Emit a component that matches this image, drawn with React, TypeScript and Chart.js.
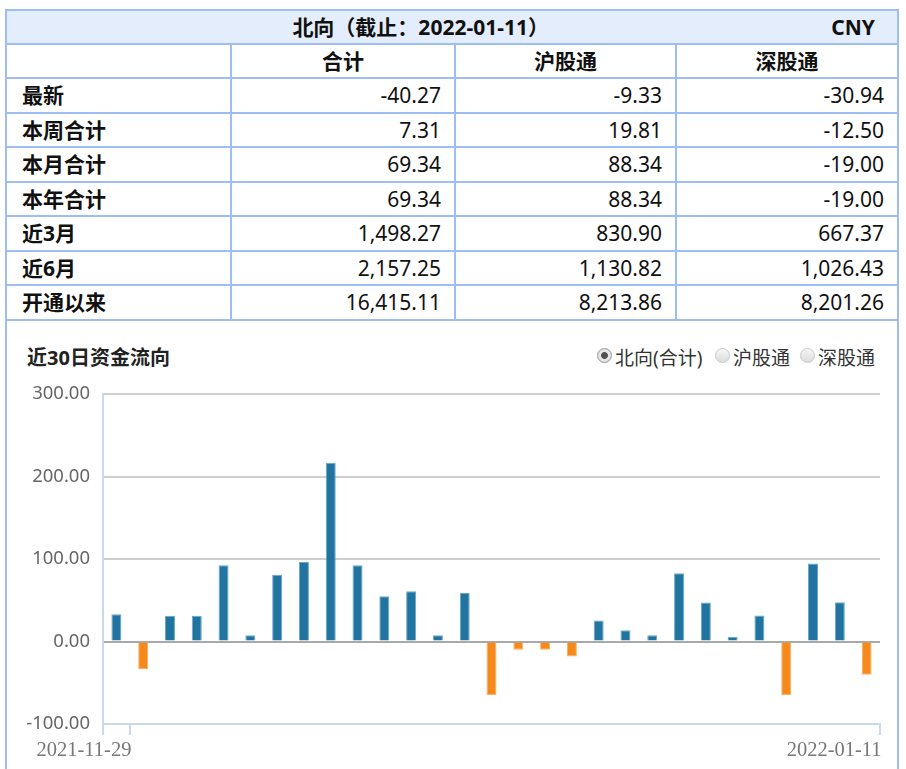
import React, { useEffect, useRef } from 'react';
import { Chart, registerables } from 'chart.js';

Chart.register(...registerables);

// ---------- data ----------
const headerTitle = '北向（截止：2022-01-11）';
const currency = 'CNY';
const columnHeaders = ['合计', '沪股通', '深股通'];
const rowLabels = ['最新', '本周合计', '本月合计', '本年合计', '近3月', '近6月', '开通以来'];
const totalValues = ['-40.27', '7.31', '69.34', '69.34', '1,498.27', '2,157.25', '16,415.11'];
const shValues = ['-9.33', '19.81', '88.34', '88.34', '830.90', '1,130.82', '8,213.86'];
const szValues = ['-30.94', '-12.50', '-19.00', '-19.00', '667.37', '1,026.43', '8,201.26'];

const chartTitle = '近30日资金流向';
const radioOptions = ['北向(合计)', '沪股通', '深股通'];

const dates = [
  '2021-11-29', '2021-11-30', '2021-12-01', '2021-12-02', '2021-12-03',
  '2021-12-06', '2021-12-07', '2021-12-08', '2021-12-09', '2021-12-10',
  '2021-12-13', '2021-12-14', '2021-12-15', '2021-12-16', '2021-12-17',
  '2021-12-20', '2021-12-21', '2021-12-22', '2021-12-23', '2021-12-28',
  '2021-12-29', '2021-12-30', '2021-12-31', '2022-01-04', '2022-01-05',
  '2022-01-06', '2022-01-07', '2022-01-10', '2022-01-11',
];
const flowValues = [
  33.1, -33.5, 31.1, 31.1, 92.5,
  7.7, 80.8, 96.5, 216.8, 92.5,
  54.9, 61.0, 7.7, 58.9, -65.0,
  -10.1, -10.1, -18.2, 25.4, 13.7,
  7.7, 82.8, 47.3, 5.7, 31.5,
  -65.0, 94.5, 47.58, -40.27,
];
const yMin = -100;
const yMax = 300;
const yStep = 100;

// ---------- styles ----------
const BORDER = '#9fbdf5';
const HEAD_BG = '#e3edfb';
const FONT = '"Noto Sans", "Noto Sans CJK SC", sans-serif';
const BLUE = '#20749f';
const BLUE_EDGE = '#6aa6c8';
const ORANGE = '#f6891b';
const ORANGE_EDGE = '#f9b062';
const AXIS = '#c8d8ee';

const colWidths = [225, 224, 221, 220];
const headRowH = 33.5;
const rowH = 34.5;

function Cell(props: { w: number; last?: boolean; align?: 'left' | 'right' | 'center'; bold?: boolean; children?: React.ReactNode; }) {
  const { w, last, align = 'left', bold, children } = props;
  return (
    <div
      style={{
        boxSizing: 'border-box',
        width: w,
        height: '100%',
        borderRight: last ? 'none' : `2px solid ${BORDER}`,
        display: 'flex',
        alignItems: 'center',
        justifyContent: align === 'left' ? 'flex-start' : align === 'right' ? 'flex-end' : 'center',
        padding: align === 'left' ? '0 0 0 15px' : align === 'right' ? '0 13px 0 0' : '0',
        fontWeight: bold ? 'bold' : 'normal',
        whiteSpace: 'nowrap',
      }}
    >
      {children}
    </div>
  );
}

function Row(props: { h: number; bg?: string; children?: React.ReactNode }) {
  return (
    <div
      style={{
        boxSizing: 'border-box',
        height: props.h,
        borderBottom: `2px solid ${BORDER}`,
        display: 'flex',
        background: props.bg,
      }}
    >
      {props.children}
    </div>
  );
}

function Radio(props: { checked?: boolean }) {
  const base: React.CSSProperties = {
    boxSizing: 'border-box',
    display: 'inline-block',
    width: 15,
    height: 15,
    borderRadius: '50%',
    verticalAlign: 'middle',
  };
  if (props.checked) {
    return (
      <span
        style={{
          ...base,
          border: '1px solid #9a9a9a',
          background: 'radial-gradient(circle, #505050 0, #505050 3px, #e9e9e9 3.8px, #d6d6d6 100%)',
        }}
      />
    );
  }
  return (
    <span
      style={{
        ...base,
        border: '1px solid #c9c9c9',
        background: 'linear-gradient(#f6f6f6, #dcdcdc)',
      }}
    />
  );
}

function FlowChart() {
  const ref = useRef<HTMLCanvasElement | null>(null);
  useEffect(() => {
    if (!ref.current) return;
    const chart = new Chart(ref.current, {
      type: 'bar',
      data: {
        labels: dates,
        datasets: [
          {
            data: flowValues,
            backgroundColor: (ctx: any) => ((ctx.raw as number) < 0 ? ORANGE : BLUE),
            borderColor: (ctx: any) => ((ctx.raw as number) < 0 ? ORANGE_EDGE : BLUE_EDGE),
            borderWidth: 1,
            categoryPercentage: 1,
            barPercentage: 0.373,
          },
        ],
      },
      options: {
        responsive: false,
        animation: false,
        layout: { padding: { top: 14, right: 14, left: 0, bottom: 0 } },
        plugins: { legend: { display: false }, tooltip: { enabled: false } },
        scales: {
          x: {
            grid: {
              offset: true,
              drawOnChartArea: false,
              drawTicks: true,
              tickLength: 11,
              lineWidth: 2,
              color: (ctx: any) =>
                ctx.type !== 'tick' || ctx.index === 0 || ctx.index === 1 ? AXIS : 'rgba(0,0,0,0)',
            },
            border: { display: true, color: AXIS, width: 2 },
            ticks: {
              autoSkip: false,
              maxRotation: 0,
              minRotation: 0,
              align: 'end',
              labelOffset: 15,
              padding: 3,
              color: '#777',
              font: { family: '"Liberation Serif", serif', size: 20.5 },
              callback: (_v: any, i: number) => (i === 0 || i === dates.length - 1 ? dates[i] : ''),
            },
            afterFit: (s: any) => {
              s.height = 45;
              s.paddingLeft = 0;
              s.paddingRight = 0;
            },
          },
          y: {
            min: yMin,
            max: yMax,
            ticks: {
              stepSize: yStep,
              padding: 13,
              color: '#666',
              font: { family: '"Noto Sans", sans-serif', size: 18.5 },
              callback: (v: any) => Number(v).toFixed(2),
            },
            grid: {
              drawTicks: false,
              lineWidth: 2,
              color: (ctx: any) => {
                const v = ctx.tick ? ctx.tick.value : null;
                if (v === 0) return '#a9a9a9';
                if (v === yMin) return 'rgba(0,0,0,0)';
                return '#cecece';
              },
            },
            border: { display: true, color: AXIS, width: 2 },
            afterFit: (s: any) => {
              s.width = 89;
              s.paddingTop = 0;
              s.paddingBottom = 0;
            },
          },
        },
      } as any,
    });
    return () => chart.destroy();
  }, []);
  return <canvas ref={ref} width={880} height={389} style={{ display: 'block' }} />;
}

export default function App() {
  const rows = rowLabels.map((label, i) => [label, totalValues[i], shValues[i], szValues[i]]);
  return (
    <div style={{ fontFamily: FONT, color: '#111' }}>
      <div
        style={{
          position: 'absolute',
          left: 5,
          top: 9,
          width: 894,
          height: 760,
          boxSizing: 'border-box',
          borderTop: `2px solid ${BORDER}`,
          borderLeft: `2px solid ${BORDER}`,
          borderRight: `2px solid ${BORDER}`,
          fontSize: 21,
          lineHeight: '24px',
        }}
      >
        <Row h={headRowH} bg={HEAD_BG}>
          <div
            style={{
              flex: 1,
              display: 'flex',
              alignItems: 'center',
              fontWeight: 'bold',
              padding: '0 22px 0 15px',
              whiteSpace: 'nowrap',
            }}
          >
            <div style={{ flex: 1, textAlign: 'center' }}>{headerTitle}</div>
            <div style={{ marginLeft: 12 }}>{currency}</div>
          </div>
        </Row>
        <Row h={rowH}>
          <Cell w={colWidths[0]} />
          {columnHeaders.map((h, j) => (
            <Cell key={h} w={colWidths[j + 1]} last={j === columnHeaders.length - 1} align="center" bold>
              {h}
            </Cell>
          ))}
        </Row>
        {rows.map((r) => (
          <Row key={r[0]} h={rowH}>
            <Cell w={colWidths[0]} bold>
              {r[0]}
            </Cell>
            {r.slice(1).map((v, j) => (
              <Cell key={j} w={colWidths[j + 1]} last={j === 2} align="right">
                {v}
              </Cell>
            ))}
          </Row>
        ))}
      </div>

      <div
        style={{
          position: 'absolute',
          left: 27,
          top: 346,
          fontSize: 20,
          lineHeight: '24px',
          fontWeight: 'bold',
          color: '#222',
          whiteSpace: 'nowrap',
        }}
      >
        {chartTitle}
      </div>

      {radioOptions.map((opt, i) => (
        <div
          key={opt}
          style={{
            position: 'absolute',
            left: [597, 715, 800][i],
            top: 346,
            height: 24,
            display: 'flex',
            alignItems: 'center',
            fontSize: 19,
            lineHeight: '24px',
            color: '#333',
            whiteSpace: 'nowrap',
          }}
        >
          <span style={{ marginTop: -5, display: 'inline-flex' }}>
            <Radio checked={i === 0} />
          </span>
          <span style={{ marginLeft: 3 }}>{opt}</span>
        </div>
      ))}

      <div style={{ position: 'absolute', left: 14, top: 380, width: 880, height: 389 }}>
        <FlowChart />
      </div>
    </div>
  );
}
